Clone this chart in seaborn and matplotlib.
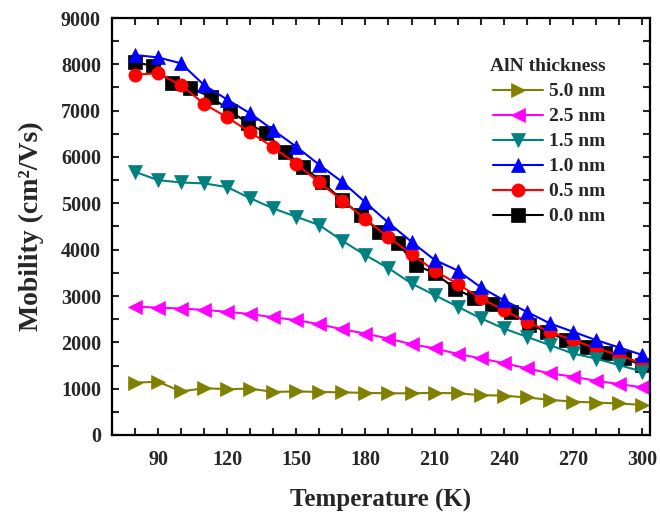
import numpy as np
import pandas as pd
import matplotlib
matplotlib.use("Agg")
import matplotlib.pyplot as plt
import seaborn as sns
from matplotlib.ticker import MultipleLocator

# ---- data ----
temps = [80, 90, 100, 110, 120, 130, 140, 150, 160, 170, 180, 190, 200,
         210, 220, 230, 240, 250, 260, 270, 280, 290, 300]
temps_0nm = [80, 88, 96, 104, 113, 121, 129, 137, 145, 153, 161, 170, 178, 186,
             194, 202, 210, 219, 227, 235, 243, 251, 259, 267, 276, 284, 292, 300]

mob_0nm = [8040, 7970, 7590, 7480, 7300, 7000, 6730, 6510, 6114, 5790, 5466, 5070, 4740, 4390,
           4137, 3669, 3489, 3160, 2960, 2820, 2661, 2374, 2229, 2050, 1905, 1763, 1655, 1511]
mob_05nm = [7780, 7805, 7553, 7143, 6856, 6532, 6208, 5848, 5453, 5056, 4660, 4266,
            3906, 3546, 3259, 2950, 2697, 2445, 2229, 2050, 1871, 1726, 1547]
mob_10nm = [8200, 8150, 8020, 7550, 7240, 6940, 6580, 6220, 5830, 5460, 5020, 4580,
            4170, 3780, 3550, 3190, 2910, 2660, 2410, 2230, 2050, 1890, 1730]
mob_15nm = [5680, 5500, 5450, 5430, 5350, 5110, 4890, 4710, 4530, 4190, 3880, 3600,
            3270, 3020, 2770, 2520, 2300, 2120, 1940, 1760, 1650, 1510, 1370]
mob_25nm = [2770, 2750, 2730, 2700, 2660, 2610, 2540, 2480, 2390, 2280, 2190, 2080,
            1960, 1870, 1750, 1655, 1550, 1440, 1330, 1260, 1170, 1100, 1030]
mob_50nm = [1130, 1150, 940, 1010, 990, 1000, 930, 940, 930, 920, 910, 900,
            900, 910, 900, 860, 850, 810, 760, 720, 700, 680, 650]

labels = ["0.0 nm", "0.5 nm", "1.0 nm", "1.5 nm", "2.5 nm", "5.0 nm"]
colors = ["#000000", "#FF0000", "#0000FF", "#008080", "#FF00FF", "#808000"]
markers = ["s", "o", "^", "v", "<", ">"]

series = [
    (temps_0nm, mob_0nm),
    (temps, mob_05nm),
    (temps, mob_10nm),
    (temps, mob_15nm),
    (temps, mob_25nm),
    (temps, mob_50nm),
]

# ---- style ----
sns.set_theme(style="ticks")
plt.rcParams["font.family"] = ["Liberation Serif", "DejaVu Serif"]
plt.rcParams["font.weight"] = "bold"
plt.rcParams["axes.labelweight"] = "bold"

fig = plt.figure(figsize=(6.6, 5.16), dpi=100)
ax = fig.add_axes([112 / 660, 1 - 435 / 516, (650 - 112) / 660, (435 - 18) / 516])

for (xs, ys), lab, col, mk in zip(series, labels, colors, markers):
    df = pd.DataFrame({"T": xs, "mu": ys})
    sns.lineplot(data=df, x="T", y="mu", ax=ax, color=col, marker=mk,
                 markersize=9.5, markeredgecolor=col, markeredgewidth=0.5,
                 linewidth=1.5, label=lab, sort=False)

ax.set_xlim(70, 303.5)
ax.set_ylim(0, 9000)
ax.xaxis.set_minor_locator(MultipleLocator(10))
ax.set_xticks(np.arange(90, 301, 30))
ax.yaxis.set_major_locator(MultipleLocator(1000))
ax.yaxis.set_minor_locator(MultipleLocator(500))

ax.tick_params(which="both", direction="in", top=True, right=True,
               width=1.5, length=5, labelsize=14.5)
ax.tick_params(axis="x", which="major", pad=10.5)
ax.tick_params(axis="y", which="major", pad=8)
for lbl in ax.get_xticklabels() + ax.get_yticklabels():
    lbl.set_fontweight("bold")
for sp in ax.spines.values():
    sp.set_linewidth(1.6)
    sp.set_color("black")

ax.set_xlabel("Temperature (K)", fontsize=18, fontweight="bold", labelpad=14)
ax.set_ylabel("Mobility (cm²/Vs)", fontsize=20, fontweight="bold", labelpad=12)

handles, labs = ax.get_legend_handles_labels()
leg = ax.legend(handles[::-1], labs[::-1], title="AlN thickness", frameon=False,
                loc="upper right", bbox_to_anchor=(0.95, 0.945),
                prop={"weight": "bold", "size": 14},
                title_fontproperties={"weight": "bold", "size": 14},
                handlelength=2.6, handletextpad=0.3, labelspacing=0.38,
                alignment="right")

fig.savefig("out.png", dpi=100)
